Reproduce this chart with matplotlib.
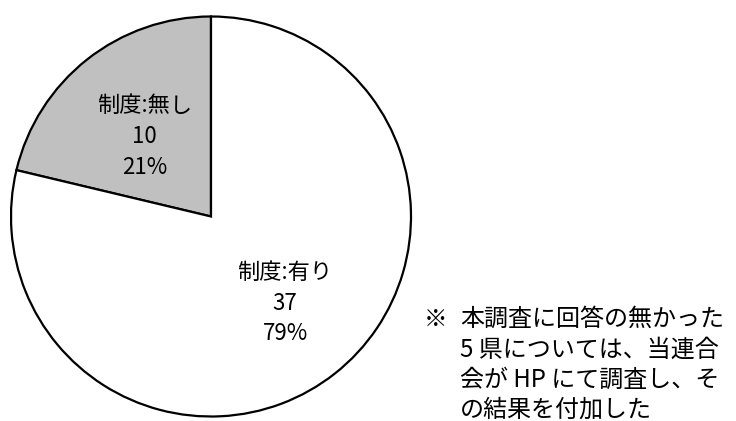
import matplotlib
matplotlib.use("Agg")
import matplotlib.pyplot as plt

plt.rcParams['font.family'] = ['Noto Sans CJK JP', 'DejaVu Sans']

labels = ['制度:無し', '制度:有り']
counts = [10, 37]
colors = ['#c0c0c0', '#ffffff']
note_mark = '※'
note_lines = ['本調査に回答の無かった', '5 県については、当連合', '会が HP にて調査し、そ', 'の結果を付加した']

W, H = 736, 421
fig = plt.figure(figsize=(W / 100, H / 100), dpi=100)

# pie centre (211, 216.5) px, radius ~200 px
cx, cy, r = 211, 216.5, 201
ax = fig.add_axes([(cx - r) / W, (H - cy - r) / H, 2 * r / W, 2 * r / H])
wedges, _ = ax.pie(counts, colors=colors, startangle=90, counterclock=True,
                   radius=1.0, wedgeprops=dict(edgecolor='black', linewidth=1.6))
ax.set_xlim(-1.005, 1.005)
ax.set_ylim(-1.005, 1.005)
ax.set_aspect('equal')
ax.axis('off')

total = sum(counts)
label_pos = [(-0.333, 0.40), (0.37, -0.433)]
for lab, n, (x, y) in zip(labels, counts, label_pos):
    pct = round(100 * n / total)
    ax.text(x, y, f'{lab}\n{n}\n{pct}%', ha='center', va='center',
            fontsize=16, linespacing=1.43)

# note at bottom right (last line runs off the bottom like the original)
fig.text(424 / W, 1 - 319 / H, note_mark, ha='left', va='center', fontsize=17)
for i, line in enumerate(note_lines):
    fig.text(460 / W, 1 - (319 + 30.3 * i) / H, line, ha='left', va='center', fontsize=17.3)

fig.savefig('out.png', dpi=100)
